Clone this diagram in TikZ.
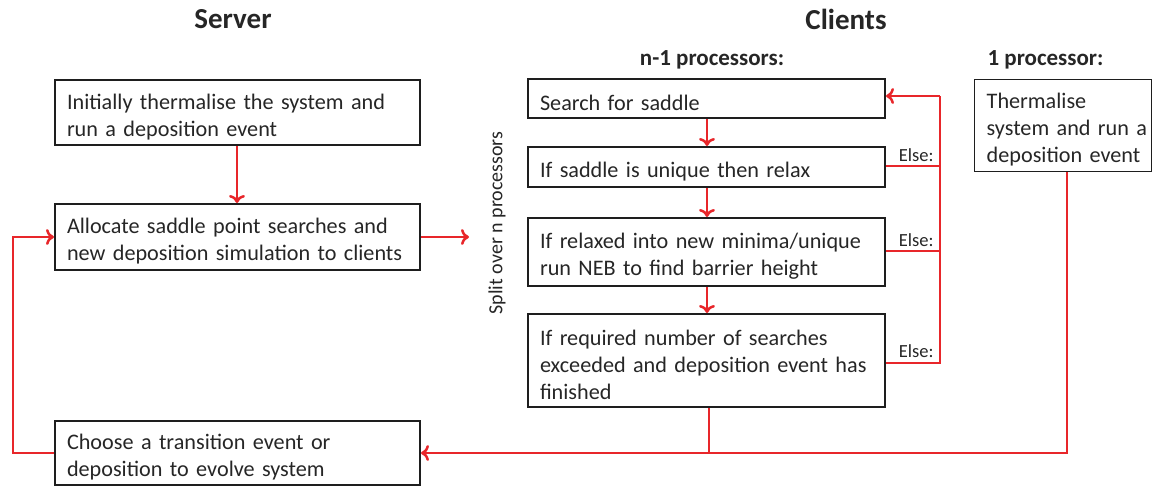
\documentclass[tikz,border=0pt]{standalone}
\usepackage{fontspec}
\setmainfont{Carlito}
\usetikzlibrary{arrows.meta}
\definecolor{lred}{RGB}{232,38,42}
\definecolor{bdr}{RGB}{30,30,30}
\hfuzz=100pt
\tikzset{
  box/.style={draw=bdr, line width=2pt, rectangle, inner sep=0pt, align=left,
    font=\fontsize{22.2}{27}\selectfont, text=black!85,
    execute at begin node={\rule{0pt}{24pt}}},
  flow/.style={draw=lred, line width=2.7pt, -{To[length=8pt,width=16pt,line width=2.5pt]}},
  link/.style={draw=lred, line width=2.7pt},
  title/.style={font=\fontsize{29}{33}\selectfont\bfseries, text=black!85},
  subtitle/.style={font=\fontsize{23}{27}\selectfont\bfseries, text=black!85},
  elsel/.style={font=\fontsize{18.5}{21}\selectfont, text=black!85},
}
\begin{document}
\begin{tikzpicture}[x=1pt,y=-1pt]
\useasboundingbox (0,0) rectangle (1152,487);
% titles
\node[title] (tserver) at (233,19) {Server};
\node[title] (tclients) at (846,19) {Clients};
\node[subtitle] (tn1) at (712,60) {n-1 processors:};
\node[subtitle, anchor=west] (t1) at (984,60) {1 processor:};
% server boxes
\node[box, minimum width=365pt, minimum height=65pt, text width=341pt] (init) at (237.5,112.5) {Initially thermalise the system and\\run a deposition event};
\node[box, minimum width=365pt, minimum height=66pt, text width=341pt] (alloc) at (237.5,237) {Allocate saddle point searches and\\new deposition simulation to clients};
\node[box, minimum width=365pt, minimum height=64pt, text width=341pt] (choose) at (237.5,453) {Choose a transition event or\\deposition to evolve system};
% client boxes
\node[box, minimum width=357pt, minimum height=39pt, text width=333pt] (search) at (706.5,98.5) {Search for saddle};
\node[box, minimum width=357pt, minimum height=40pt, text width=333pt] (unique) at (706.5,167) {If saddle is unique then relax};
\node[box, minimum width=357pt, minimum height=68pt, text width=333pt] (relax) at (706.5,252) {If relaxed into new minima/unique\\run NEB to find barrier height};
\node[box, minimum width=357pt, minimum height=93pt, text width=333pt] (req) at (706.5,360.5) {If required number of searches\\exceeded and deposition event has\\finished};
\node[box, line width=1.4pt, minimum width=177pt, minimum height=92pt, text width=153pt, anchor=north west] (therm) at (974,79) {\mbox{Thermalise}\\\mbox{system and run a}\\\mbox{deposition event}};
% split label
\node[rotate=90, font=\fontsize{20}{24}\selectfont, text=black!85] (split) at (497,223) {Split over n processors};
% coordinates
\coordinate (split-in) at (469,237);
\coordinate (rx) at (940,96);
\coordinate (join) at (709,453);
\coordinate (tx) at (1067,453);
\coordinate (lx) at (13,453);
% arrows
\draw[flow] (init.south -| 237,0) -- (alloc.north -| 237,0);
\draw[flow] (alloc.east) -- (split-in);
\draw[flow] (search.south -| 707,0) -- (unique.north -| 707,0);
\draw[flow] (unique.south -| 707,0) -- (relax.north -| 707,0);
\draw[flow] (relax.south -| 707,0) -- (req.north -| 707,0);
% else loop
\draw[link] (unique.east |- 0,166) -- (940,166);
\draw[link] (relax.east |- 0,251) -- (940,251);
\draw[link] (req.east |- 0,363) -- (940,363) -- (rx);
\draw[flow] (rx) -- (search.east |- rx);
\node[elsel, anchor=south east] (e1) at (937,165) {Else:};
\node[elsel, anchor=south east] (e2) at (937,250) {Else:};
\node[elsel, anchor=south east] (e3) at (937,361) {Else:};
% return to server
\draw[link] (req.south -| join) -- (join);
\draw[flow] (therm.south -| tx) -- (tx) -- (choose.east);
% server loop
\draw[flow] (choose.west) -- (lx) -- (lx |- alloc.west) -- (alloc.west);
\end{tikzpicture}
\end{document}
